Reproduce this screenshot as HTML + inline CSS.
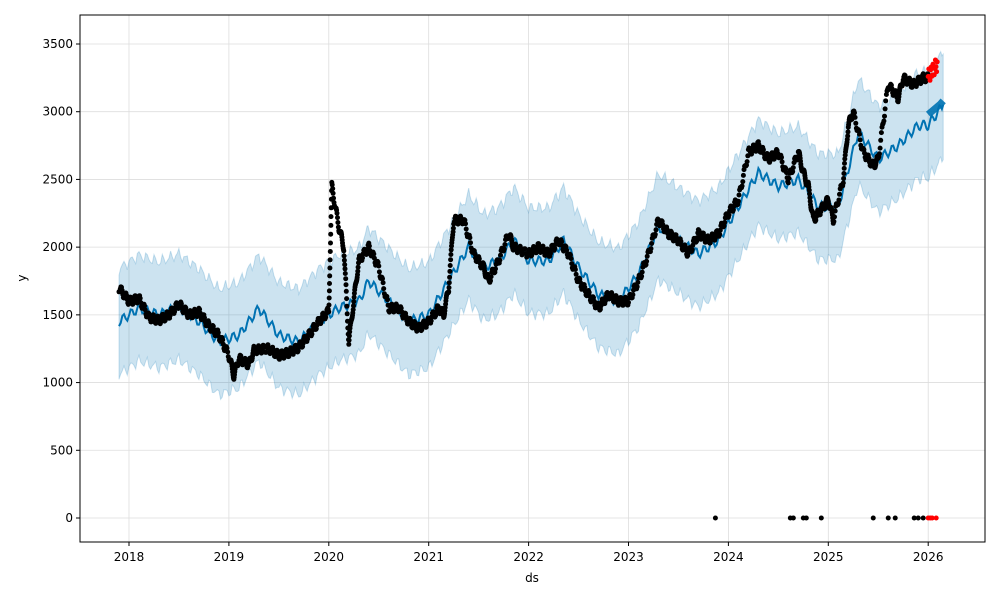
<!DOCTYPE html>
<html><head><meta charset="utf-8"><style>
body{margin:0;background:#fff;}
svg{font-family:"DejaVu Sans","Liberation Sans",sans-serif;}
</style></head><body>
<svg id="s" width="1000" height="600" viewBox="0 0 1000 600" xmlns="http://www.w3.org/2000/svg"></svg>
<script>
const s=document.getElementById('s');
const X=t=>129+(t-2018)*99.9, Y=v=>518-v*0.13543;
let h='';
for(let yr=2018;yr<=2026;yr++){const x=X(yr);h+=`<line x1="${x}" y1="15" x2="${x}" y2="542" stroke="#ddd" stroke-width="0.8"/>`;h+=`<line x1="${x}" y1="542" x2="${x}" y2="546" stroke="#000"/><text x="${x}" y="561" font-size="12" text-anchor="middle">${yr}</text>`;}
for(let v=0;v<=3500;v+=500){const y=Y(v);h+=`<line x1="80" y1="${y}" x2="985" y2="${y}" stroke="#ddd" stroke-width="0.8"/>`;h+=`<line x1="76" y1="${y}" x2="80" y2="${y}" stroke="#000"/><text x="73" y="${y+4}" font-size="12" text-anchor="end">${v}</text>`;}
const f=[[2017.9,1450],[2018.1,1550],[2018.3,1500],[2018.5,1560],[2018.7,1450],[2018.9,1300],[2019.1,1350],[2019.3,1550],[2019.5,1350],[2019.7,1300],[2019.9,1450],[2020.1,1550],[2020.3,1600],[2020.4,1750],[2020.6,1600],[2020.8,1450],[2021.0,1500],[2021.2,1750],[2021.4,2000],[2021.55,1850],[2021.7,1900],[2021.85,2050],[2022.0,1900],[2022.2,1900],[2022.35,2050],[2022.5,1850],[2022.7,1650],[2022.9,1600],[2023.1,1800],[2023.3,2150],[2023.5,2050],[2023.7,1950],[2023.9,2050],[2024.1,2300],[2024.3,2550],[2024.5,2450],[2024.7,2500],[2024.9,2300],[2025.1,2300],[2025.3,2850],[2025.5,2650],[2025.7,2750],[2025.9,2900],[2026.0,2900],[2026.15,3050]];
const fd=[];for(let i=0;i<f.length-1;i++){for(let k=0;k<12;k++){const a=k/12,t=f[i][0]+(f[i+1][0]-f[i][0])*a,v=f[i][1]+(f[i+1][1]-f[i][1])*a+35*Math.sin(t*80);fd.push([t,v]);}}fd.push(f[f.length-1]);
let up=fd.map(p=>`${X(p[0]).toFixed(1)},${Y(p[1]+390+15*Math.sin(p[0]*150)).toFixed(1)}`),lo=fd.slice().reverse().map(p=>`${X(p[0]).toFixed(1)},${Y(p[1]-390-15*Math.cos(p[0]*140)).toFixed(1)}`);
h+=`<polygon points="${up.join(' ')} ${lo.join(' ')}" fill="#0072B2" fill-opacity="0.2" stroke="#0072B2" stroke-opacity="0.2"/>`;
h+=`<polyline points="${fd.map(p=>X(p[0]).toFixed(1)+','+Y(p[1]).toFixed(1)).join(' ')}" fill="none" stroke="#0072B2" stroke-width="2"/>`;
h+=`<polyline points="${[2026.0,2026.04,2026.08,2026.12,2026.15].map((t,i)=>X(t)+','+Y(2980+i*25)).join(' ')}" fill="none" stroke="#0072B2" stroke-width="7" opacity="0.9"/>`;
const d=[[2017.9,1700],[2018.0,1600],[2018.1,1620],[2018.2,1480],[2018.3,1460],[2018.4,1500],[2018.5,1580],[2018.6,1500],[2018.7,1520],[2018.8,1420],[2018.9,1350],[2019.0,1200],[2019.05,1050],[2019.1,1180],[2019.2,1130],[2019.25,1240],[2019.4,1250],[2019.5,1200],[2019.6,1220],[2019.7,1260],[2019.8,1350],[2019.9,1450],[2020.0,1530],[2020.03,2450],[2020.1,2150],[2020.15,2000],[2020.2,1300],[2020.25,1600],[2020.3,1900],[2020.4,2000],[2020.5,1850],[2020.6,1550],[2020.7,1550],[2020.8,1450],[2020.9,1400],[2021.0,1450],[2021.1,1550],[2021.15,1500],[2021.2,1700],[2021.25,2200],[2021.35,2200],[2021.45,1950],[2021.55,1850],[2021.6,1750],[2021.7,1900],[2021.8,2100],[2021.85,2000],[2022.0,1950],[2022.1,2000],[2022.2,1950],[2022.3,2050],[2022.4,1950],[2022.5,1750],[2022.6,1650],[2022.7,1550],[2022.8,1650],[2022.9,1600],[2023.0,1600],[2023.1,1750],[2023.2,1950],[2023.3,2200],[2023.4,2100],[2023.5,2050],[2023.6,1950],[2023.7,2100],[2023.8,2050],[2023.9,2100],[2024.0,2250],[2024.1,2350],[2024.2,2700],[2024.3,2750],[2024.4,2650],[2024.5,2700],[2024.6,2500],[2024.7,2700],[2024.75,2550],[2024.8,2450],[2024.85,2200],[2024.95,2300],[2025.0,2350],[2025.05,2200],[2025.15,2500],[2025.2,2900],[2025.25,3000],[2025.35,2700],[2025.45,2600],[2025.5,2650],[2025.6,3200],[2025.7,3100],[2025.75,3250],[2025.85,3200],[2025.95,3250],[2026.0,3250]];
let dp='';for(let i=0;i<d.length-1;i++){for(let k=0;k<16;k++){const a=k/16,t=d[i][0]+(d[i+1][0]-d[i][0])*a,v=d[i][1]+(d[i+1][1]-d[i][1])*a+30*Math.sin(t*137);dp+=`<circle cx="${X(t).toFixed(1)}" cy="${Y(v).toFixed(1)}" r="2.5"/>`;}}
[2023.87,2024.62,2024.65,2024.75,2024.78,2024.93,2025.45,2025.6,2025.67,2025.86,2025.9,2025.95].forEach(t=>dp+=`<circle cx="${X(t)}" cy="${Y(0)}" r="2.5"/>`);
h+=`<g fill="#000">${dp}</g>`;
let rp='';for(let i=0;i<16;i++){const t=2026.0+i*0.006;rp+=`<circle cx="${X(t).toFixed(1)}" cy="${Y(3260+50*Math.sin(i*1.7)+i*6).toFixed(1)}" r="2.5"/>`;}
[2026.0,2026.02,2026.04,2026.08].forEach(t=>rp+=`<circle cx="${X(t)}" cy="${Y(0)}" r="2.5"/>`);
h+=`<g fill="#f00">${rp}</g>`;
h+=`<rect x="80" y="15" width="905" height="527" fill="none" stroke="#000" stroke-width="1"/>`;
h+=`<text x="532" y="582" font-size="12" text-anchor="middle">ds</text>`;
h+=`<text x="26" y="278" font-size="12" text-anchor="middle" transform="rotate(-90 26 278)">y</text>`;
s.innerHTML=h;
</script>
</body></html>
